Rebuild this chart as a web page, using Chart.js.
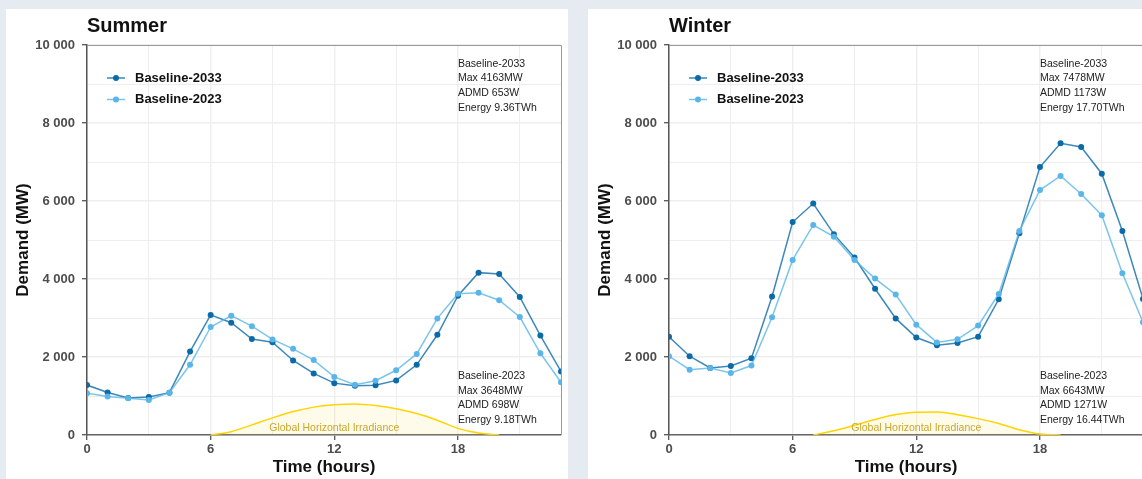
<!DOCTYPE html>
<html>
<head>
<meta charset="utf-8">
<title>Demand profiles</title>
<script src="https://cdn.jsdelivr.net/npm/chart.js@4.4.1/dist/chart.umd.min.js"></script>
<style>
  html, body { margin: 0; padding: 0; }
  body {
    width: 1142px;
    height: 479px;
    overflow: hidden;
    position: relative;
    background: #e6eaf1;
  }
  .card { position: absolute; top: 9px; width: 562px; height: 470px; background: #fff; }
</style>
</head>
<body>
<div class="card" style="left:6px"><canvas id="summerChart" width="562" height="470"></canvas></div>
<div class="card" style="left:588px"><canvas id="winterChart" width="562" height="470"></canvas></div>
<script>
// hourly demand, MW
const hours = [0, 1, 2, 3, 4, 5, 6, 7, 8, 9, 10, 11, 12, 13, 14, 15, 16, 17, 18, 19, 20, 21, 22, 23];

const summer2033 = [1280, 1090, 950, 975, 1085, 2140, 3080, 2880, 2460, 2380, 1910, 1580, 1330, 1260, 1275, 1400, 1800, 2570, 3570, 4163, 4130, 3540, 2550, 1630];
const summer2023 = [1070, 985, 940, 900, 1085, 1800, 2770, 3060, 2790, 2450, 2210, 1920, 1490, 1290, 1390, 1660, 2080, 2990, 3620, 3648, 3455, 3025, 2095, 1350];
const winter2033 = [2520, 2020, 1720, 1770, 1970, 3550, 5460, 5935, 5150, 4550, 3750, 2990, 2500, 2300, 2360, 2520, 3480, 5170, 6870, 7478, 7385, 6700, 5230, 3490];
const winter2023 = [2020, 1675, 1720, 1590, 1780, 3020, 4490, 5385, 5085, 4490, 4010, 3600, 2830, 2375, 2455, 2805, 3615, 5230, 6280, 6643, 6180, 5635, 4145, 2890];

// irradiance shape, drawn on the demand axis
const summerIrr = [null, null, null, null, null, null, 0, 85, 260, 440, 600, 715, 775, 795, 755, 675, 550, 380, 170, 50, 0, null, null, null];
const winterIrr = [null, null, null, null, null, null, null, 0, 110, 250, 400, 525, 585, 590, 520, 420, 295, 135, 25, 0, null, null, null, null];

const summerStats2033 = ["Baseline-2033", "Max 4163MW", "ADMD 653W", "Energy 9.36TWh"];
const summerStats2023 = ["Baseline-2023", "Max 3648MW", "ADMD 698W", "Energy 9.18TWh"];
const winterStats2033 = ["Baseline-2033", "Max 7478MW", "ADMD 1173W", "Energy 17.70TWh"];
const winterStats2023 = ["Baseline-2023", "Max 6643MW", "ADMD 1271W", "Energy 16.44TWh"];

const xGridHours = [0, 3, 6, 9, 12, 15, 18, 21];
const xLabelHours = [0, 6, 12, 18];

const FONT = "'Liberation Sans', Arial, sans-serif";
const DARK = "#0b6aa8";
const LIGHT = "#5ab6e8";

function fmt(v) {
  return String(v).replace(/\B(?=(\d{3})+(?!\d))/g, " ");
}

function xy(vals) {
  return hours.map((h, i) => ({ x: h, y: vals[i] }));
}

function panelPlugin(title, topLines, bottomLines) {
  return {
    id: "panel",
    afterDraw(chart) {
      const { ctx, chartArea: a, scales } = chart;
      ctx.save();

      // top and right frame
      ctx.strokeStyle = "#9a9a9a";
      ctx.lineWidth = 1;
      ctx.beginPath();
      ctx.moveTo(a.left, a.top + 0.5);
      ctx.lineTo(a.right + 0.5, a.top + 0.5);
      ctx.lineTo(a.right + 0.5, a.bottom);
      ctx.stroke();

      // title
      ctx.fillStyle = "#111";
      ctx.font = "bold 20px " + FONT;
      ctx.textAlign = "left";
      ctx.textBaseline = "alphabetic";
      ctx.fillText(title, a.left, 23);

      // legend
      const items = chart.data.datasets.filter(d => d.label.startsWith("Baseline"));
      items.sort((p, q) => q.label.localeCompare(p.label));
      ctx.font = "bold 13px " + FONT;
      ctx.textBaseline = "middle";
      items.forEach((d, i) => {
        const y = a.top + 33 + i * 21.5;
        const x0 = a.left + 20;
        ctx.strokeStyle = d.borderColor;
        ctx.lineWidth = 1.5;
        ctx.beginPath();
        ctx.moveTo(x0, y);
        ctx.lineTo(x0 + 18, y);
        ctx.stroke();
        ctx.fillStyle = d.pointBackgroundColor;
        ctx.beginPath();
        ctx.arc(x0 + 9, y, 3, 0, Math.PI * 2);
        ctx.fill();
        ctx.fillStyle = "#111";
        ctx.fillText(d.label, x0 + 28, y);
      });

      // stats blocks
      const sx = scales.x.getPixelForValue(18);
      ctx.font = "10.5px " + FONT;
      ctx.fillStyle = "#222";
      ctx.textBaseline = "alphabetic";
      topLines.forEach((t, i) => ctx.fillText(t, sx, a.top + 21.7 + i * 14.6));
      bottomLines.forEach((t, i) => ctx.fillText(t, sx, a.bottom - 56 + i * 14.5));

      // irradiance label
      ctx.fillStyle = "#c8a82a";
      ctx.textAlign = "center";
      ctx.textBaseline = "middle";
      ctx.fillText("Global Horizontal Irradiance", scales.x.getPixelForValue(12), a.bottom - 7);

      ctx.restore();
    }
  };
}

function makeChart(id, title, d2033, d2023, irr, topLines, bottomLines) {
  const ctx = document.getElementById(id).getContext("2d");
  return new Chart(ctx, {
    type: "line",
    data: {
      datasets: [
        {
          label: "Irradiance",
          data: xy(irr),
          borderColor: "rgb(255, 212, 0)",
          backgroundColor: "rgba(255, 226, 90, 0.12)",
          borderWidth: 1.5,
          pointRadius: 0,
          fill: "origin",
          cubicInterpolationMode: "monotone",
          spanGaps: false,
          order: 3,
        },
        {
          label: "Baseline-2033",
          data: xy(d2033),
          borderColor: "rgba(11, 106, 168, 0.8)",
          pointBackgroundColor: DARK,
          pointBorderWidth: 0,
          pointRadius: 3,
          borderWidth: 1.5,
          fill: false,
          tension: 0,
          order: 2,
        },
        {
          label: "Baseline-2023",
          data: xy(d2023),
          borderColor: "rgba(90, 182, 232, 0.8)",
          pointBackgroundColor: LIGHT,
          pointBorderWidth: 0,
          pointRadius: 3,
          borderWidth: 1.5,
          fill: false,
          tension: 0,
          order: 1,
        },
      ],
    },
    options: {
      responsive: false,
      animation: false,
      layout: { padding: { top: 36, right: 7, left: 0, bottom: 0 } },
      plugins: { legend: { display: false }, tooltip: { enabled: false } },
      scales: {
        x: {
          type: "linear",
          min: 0,
          max: 23,
          afterBuildTicks: s => { s.ticks = xGridHours.map(v => ({ value: v })); },
          afterFit: s => { s.height = 44; },
          ticks: {
            autoSkip: false,
            maxRotation: 0,
            padding: 2,
            color: "#4d4d4d",
            font: { family: FONT, size: 13, weight: "bold" },
            callback: v => (xLabelHours.includes(v) ? String(v) : ""),
          },
          grid: {
            color: "#eeeeee",
            lineWidth: c => (c.tick && c.tick.value % 6 === 0 ? 1.4 : 1),
            tickLength: 5,
            tickWidth: 1.3,
            tickColor: c => (c.tick && xLabelHours.includes(c.tick.value) ? "#555" : "rgba(0,0,0,0)"),
          },
          border: { display: true, color: "#666", width: 1.5 },
          title: {
            display: true,
            text: "Time (hours)",
            color: "#111",
            font: { family: FONT, size: 17, weight: "bold" },
            padding: { top: 0, bottom: 1 },
          },
        },
        y: {
          min: 0,
          max: 10000,
          afterFit: s => { s.width = 81; },
          ticks: {
            stepSize: 1000,
            padding: 7,
            color: "#4d4d4d",
            font: { family: FONT, size: 13, weight: "bold" },
            callback: v => (v % 2000 === 0 ? fmt(v) : ""),
          },
          grid: {
            color: "#eeeeee",
            lineWidth: c => (c.tick && c.tick.value % 2000 === 0 ? 1.4 : 1),
            tickLength: 5,
            tickWidth: 1.3,
            tickColor: c => (c.tick && c.tick.value % 2000 === 0 ? "#555" : "rgba(0,0,0,0)"),
          },
          border: { display: true, color: "#555", width: 1.5 },
          title: {
            display: true,
            text: "Demand (MW)",
            color: "#111",
            font: { family: FONT, size: 17, weight: "bold" },
            padding: { top: 7, bottom: 0 },
          },
        },
      },
    },
    plugins: [panelPlugin(title, topLines, bottomLines)],
  });
}

makeChart("summerChart", "Summer", summer2033, summer2023, summerIrr, summerStats2033, summerStats2023);
makeChart("winterChart", "Winter", winter2033, winter2023, winterIrr, winterStats2033, winterStats2023);
</script>
</body>
</html>
